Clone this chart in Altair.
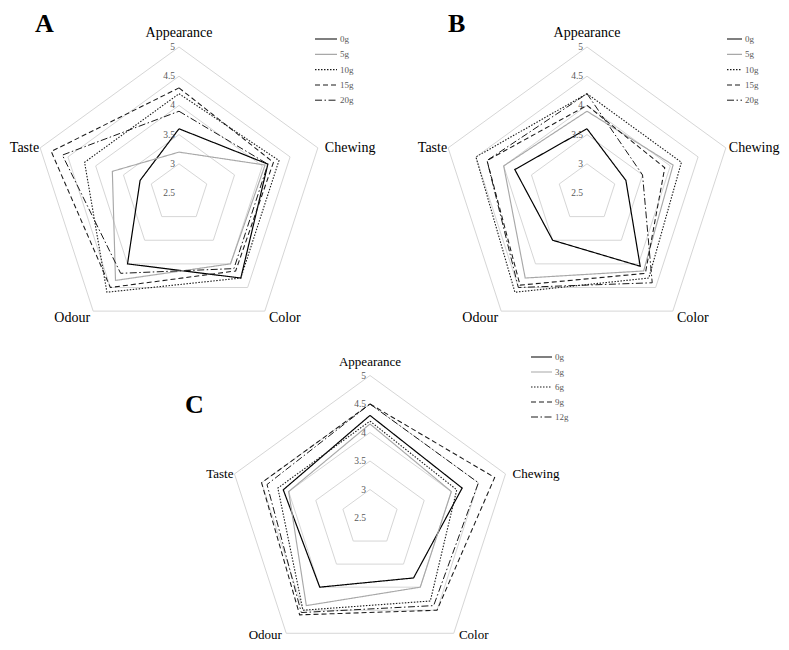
import altair as alt
import pandas as pd

# ---------------- data ----------------
attributes = ["Appearance", "Chewing", "Color", "Odour", "Taste"]
tick_levels = [2.5, 3, 3.5, 4, 4.5, 5]
grid_levels = [3, 3.5, 4, 4.5, 5]
panels = ["A", "B", "C"]

series_A = ["0g", "5g", "10g", "15g", "20g"]
series_B = ["0g", "5g", "10g", "15g", "20g"]
series_C = ["0g", "3g", "6g", "9g", "12g"]

# values in attribute order: Appearance, Chewing, Color, Odour, Taste
A_0g = [3.6, 4.1, 4.3, 4.0, 3.2]
A_5g = [3.2, 4.05, 4.0, 4.35, 3.7]
A_10g = [4.2, 4.3, 4.3, 4.6, 4.2]
A_15g = [4.3, 4.2, 4.15, 4.5, 4.8]
A_20g = [3.9, 4.1, 4.1, 4.2, 4.6]

B_0g = [3.6, 3.2, 4.05, 3.5, 3.8]
B_5g = [3.9, 4.05, 4.15, 4.3, 4.0]
B_10g = [4.2, 4.2, 4.3, 4.6, 4.5]
B_15g = [4.0, 3.9, 4.2, 4.45, 4.3]
B_20g = [4.2, 3.5, 4.4, 4.5, 4.3]

C_0g = [4.3, 4.2, 3.8, 4.0, 4.1]
C_3g = [4.15, 4.0, 4.0, 4.4, 4.0]
C_6g = [4.2, 4.1, 4.3, 4.5, 4.2]
C_9g = [4.5, 4.8, 4.5, 4.6, 4.5]
C_12g = [4.5, 4.5, 4.4, 4.55, 4.4]

values = {
    "A": (series_A, [A_0g, A_5g, A_10g, A_15g, A_20g]),
    "B": (series_B, [B_0g, B_5g, B_10g, B_15g, B_20g]),
    "C": (series_C, [C_0g, C_3g, C_6g, C_9g, C_12g]),
}

# ---------------- layout (chart pixel space) ----------------
W, H = 773, 634
LAYOUT = {"A": (171, 185, 146), "B": (579, 185, 146), "C": (362, 510, 142.5)}
LEG = {"A": (307, 329, 332, 31, 15.3), "B": (719, 734, 737, 31, 15.3), "C": (523, 544, 547, 349, 15)}
LET = {"A": (27, 3), "B": (440, 3), "C": (177, 384)}
FS = {"A": (14,), "B": (14,), "C": (13,)}
FONT = "Liberation Serif"


def pick(table, j):
    a, b, c = table["A"][j], table["B"][j], table["C"][j]
    return f"(datum.panel=='A'?{a}:datum.panel=='B'?{b}:{c})"


CX, CY, RR = pick(LAYOUT, 0), pick(LAYOUT, 1), pick(LAYOUT, 2)
ANG = "(PI/2 - datum.k*2*PI/5)"
RAD = f"((datum.v-2.5)/2.5*{RR})"


def polar(ch):
    return ch.transform_calculate(
        x=f"{CX} + {RAD}*cos({ANG})",
        y=f"{CY} - {RAD}*sin({ANG})",
        fs=pick(FS, 0),
    )


def xs(field="x"):
    return alt.X(f"{field}:Q", scale=alt.Scale(domain=[0, W], nice=False, zero=False), axis=None)


def ys(field="y"):
    return alt.Y(f"{field}:Q", scale=alt.Scale(domain=[0, H], nice=False, zero=False, reverse=True), axis=None)


# ---------------- tables ----------------
grid_rows = []
for p in panels:
    for lv in grid_levels:
        for k in range(6):
            grid_rows.append({"panel": p, "k": k % 5, "ord": k, "v": lv, "key": f"{p}{lv}"})
grid_df = pd.DataFrame(grid_rows)

ser_rows = []
for p in panels:
    labs, vals = values[p]
    for i, (lab, vs) in enumerate(zip(labs, vals)):
        for k in range(6):
            ser_rows.append({"panel": p, "idx": i, "series": lab, "key": f"{p}{i}",
                             "k": k % 5, "ord": k, "v": vs[k % 5]})
ser_df = pd.DataFrame(ser_rows)

tick_df = pd.DataFrame([{"panel": p, "k": 0, "v": lv, "label": f"{lv:g}"}
                        for p in panels for lv in tick_levels])

att_df = pd.DataFrame([{"panel": p, "k": k, "v": 5, "name": a}
                       for p in panels for k, a in enumerate(attributes)])

leg_df = pd.DataFrame([{"panel": p, "idx": i, "label": lab}
                       for p in panels for i, lab in enumerate(values[p][0])])

let_df = pd.DataFrame([{"panel": p} for p in panels])

dash_scale = alt.Scale(domain=[0, 1, 2, 3, 4],
                       range=[[1, 0], [1, 0], [1.5, 1.5], [5, 3], [7, 2.5, 1.5, 2.5]])
color_scale = alt.Scale(domain=[0, 1, 2, 3, 4],
                        range=["#000000", "#a8a8a8", "#1a1a1a", "#1a1a1a", "#1a1a1a"])
width_scale = alt.Scale(domain=[0, 1, 2, 3, 4], range=[1.2, 1, 1.2, 1.1, 1.1])

# ---------------- layers ----------------
grid = polar(alt.Chart(grid_df)).mark_line(stroke="#d6d6d6", strokeWidth=1).encode(
    x=xs(), y=ys(), order="ord:Q", detail="key:N")

lines = polar(alt.Chart(ser_df)).mark_line().encode(
    x=xs(), y=ys(), order="ord:Q", detail="key:N",
    strokeDash=alt.StrokeDash("idx:N", scale=dash_scale, legend=None),
    color=alt.Color("idx:N", scale=color_scale, legend=None),
    strokeWidth=alt.StrokeWidth("idx:N", scale=width_scale, legend=None),
)

ticks = polar(alt.Chart(tick_df)).mark_text(
    align="right", baseline="middle", dx=-4, fontSize=9.5, font=FONT, color="#595959"
).encode(x=xs(), y=ys(), text="label:N")

att_base = polar(alt.Chart(att_df))
txt = dict(font=FONT, color="#000000", baseline="middle")
att_enc = dict(x=xs(), y=ys(), text="name:N", size=alt.Size("fs:Q", scale=None, legend=None))
att_top = att_base.transform_filter("datum.k==0").mark_text(
    align="center", dy=-14, **txt).encode(**att_enc)
att_chew_a = att_base.transform_filter("datum.k==1 && datum.panel!='B'").mark_text(
    align="left", dx=7, **txt).encode(**att_enc)
att_chew_b = att_base.transform_filter("datum.k==1 && datum.panel=='B'").mark_text(
    align="left", dx=3, **txt).encode(**att_enc)
att_color_ab = att_base.transform_filter("datum.k==2 && datum.panel!='C'").mark_text(
    align="center", dx=20, dy=7, **txt).encode(**att_enc)
att_odour_ab = att_base.transform_filter("datum.k==3 && datum.panel!='C'").mark_text(
    align="center", dx=-21, dy=7, **txt).encode(**att_enc)
att_color_c = att_base.transform_filter("datum.k==2 && datum.panel=='C'").mark_text(
    align="center", dx=20, dy=1.5, **txt).encode(**att_enc)
att_odour_c = att_base.transform_filter("datum.k==3 && datum.panel=='C'").mark_text(
    align="center", dx=-21, dy=1.5, **txt).encode(**att_enc)
att_taste = att_base.transform_filter("datum.k==4").mark_text(
    align="right", dx=-1, **txt).encode(**att_enc)

leg_base = alt.Chart(leg_df).transform_calculate(
    lx0=pick(LEG, 0), lx1=pick(LEG, 1), tx=pick(LEG, 2),
    ly=f"{pick(LEG, 3)} + datum.idx*{pick(LEG, 4)}",
)
leg_lines = leg_base.mark_rule().encode(
    x=xs("lx0"), x2="lx1:Q", y=ys("ly"),
    strokeDash=alt.StrokeDash("idx:N", scale=dash_scale, legend=None),
    color=alt.Color("idx:N", scale=color_scale, legend=None),
    strokeWidth=alt.StrokeWidth("idx:N", scale=width_scale, legend=None),
)
leg_text = leg_base.mark_text(
    align="left", baseline="middle", fontSize=9, font=FONT, color="#595959"
).encode(x=xs("tx"), y=ys("ly"), text="label:N")

letters = alt.Chart(let_df).transform_calculate(
    lx=pick(LET, 0), ly=pick(LET, 1)
).mark_text(
    align="left", baseline="top", fontSize=26, fontWeight="bold", font=FONT, color="#000000"
).encode(x=xs("lx"), y=ys("ly"), text="panel:N")

chart = alt.layer(
    grid, lines, ticks, att_top, att_chew_a, att_chew_b, att_color_ab, att_odour_ab,
    att_color_c, att_odour_c, att_taste, leg_lines, leg_text, letters
).properties(
    width=W, height=H, padding=0, autosize=alt.AutoSizeParams(type="none")
).configure_view(stroke=None)

chart.save("out.html", embed_options={"renderer": "svg", "actions": False})
